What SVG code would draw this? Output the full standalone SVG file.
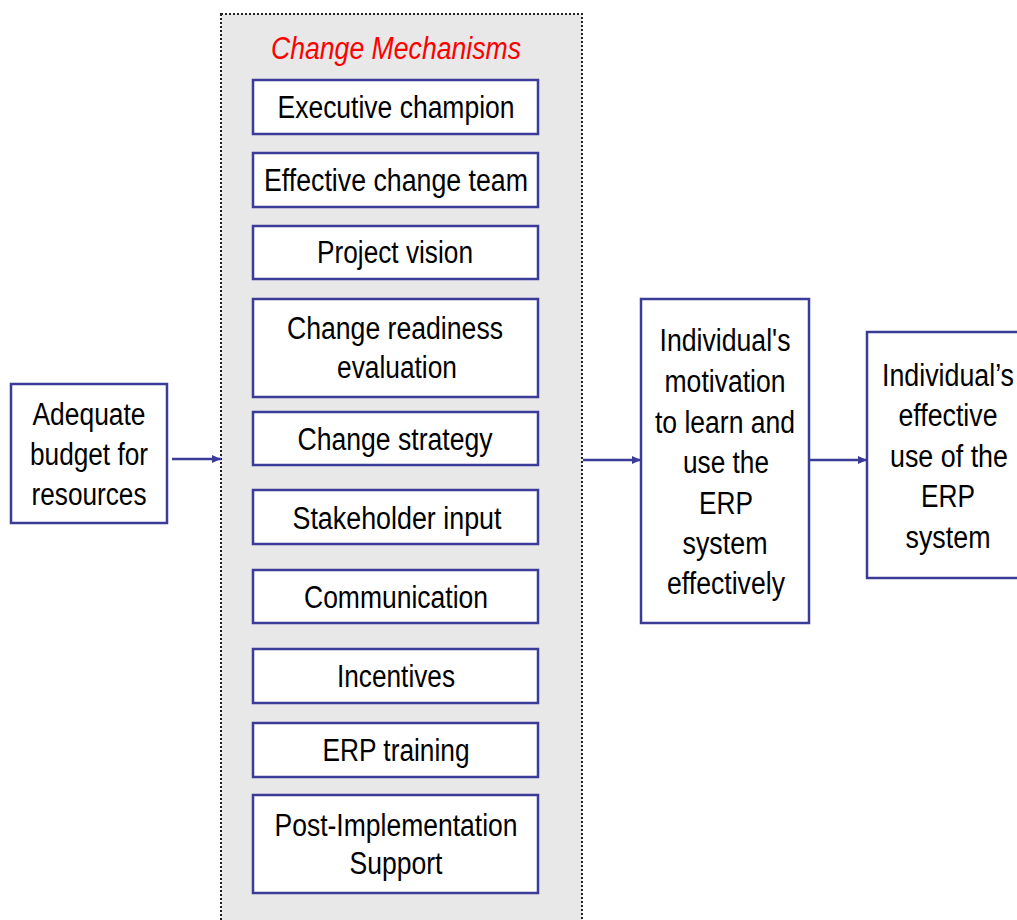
<svg xmlns="http://www.w3.org/2000/svg" width="1017" height="920" viewBox="0 0 1017 920">
  <style>
    .box { fill: #ffffff; stroke: #3b3b98; stroke-width: 2.5; }
    .lbl { font-family: "Liberation Sans", Arial, sans-serif; font-size: 31px; fill: #000000; text-anchor: middle; }
    .title { font-family: "Liberation Sans", Arial, sans-serif; font-size: 31px; font-style: italic; fill: #ff0000; text-anchor: middle; }
    .edge { stroke: #3b3b98; stroke-width: 2.5; fill: none; }
  </style>
  <defs>
    <marker id="arrow" markerWidth="10" markerHeight="10" refX="9" refY="5" orient="auto" markerUnits="userSpaceOnUse">
      <path d="M0,1 L9,5 L0,9 Z" fill="#3b3b98"/>
    </marker>
  </defs>

  <rect x="0" y="0" width="1017" height="920" fill="#ffffff"/>

  <!-- container of change mechanisms -->
  <g id="mechanisms">
    <rect x="221" y="14" width="361" height="930" fill="#e8e8e8" stroke="#222222" stroke-width="2" stroke-dasharray="2 2"/>
    <text class="title" x="396" y="59" textLength="250" lengthAdjust="spacingAndGlyphs">Change Mechanisms</text>
  </g>

  <g id="executive-champion">
    <rect class="box" x="253" y="80" width="285" height="54"/>
    <text class="lbl" x="396" y="118" textLength="237" lengthAdjust="spacingAndGlyphs">Executive champion</text>
  </g>
  <g id="change-team">
    <rect class="box" x="253" y="153" width="285" height="54"/>
    <text class="lbl" x="396" y="191" textLength="264" lengthAdjust="spacingAndGlyphs">Effective change team</text>
  </g>
  <g id="project-vision">
    <rect class="box" x="253" y="226" width="285" height="53"/>
    <text class="lbl" x="395" y="263" textLength="156" lengthAdjust="spacingAndGlyphs">Project vision</text>
  </g>
  <g id="readiness">
    <rect class="box" x="253" y="299" width="285" height="98"/>
    <text class="lbl" x="395" y="339" textLength="216" lengthAdjust="spacingAndGlyphs">Change readiness</text>
    <text class="lbl" x="397" y="378" textLength="120" lengthAdjust="spacingAndGlyphs">evaluation</text>
  </g>
  <g id="change-strategy">
    <rect class="box" x="253" y="412" width="285" height="53"/>
    <text class="lbl" x="395" y="450" textLength="195" lengthAdjust="spacingAndGlyphs">Change strategy</text>
  </g>
  <g id="stakeholder-input">
    <rect class="box" x="253" y="490" width="285" height="54"/>
    <text class="lbl" x="397" y="529" textLength="209" lengthAdjust="spacingAndGlyphs">Stakeholder input</text>
  </g>
  <g id="communication">
    <rect class="box" x="253" y="570" width="285" height="53"/>
    <text class="lbl" x="396" y="608" textLength="184" lengthAdjust="spacingAndGlyphs">Communication</text>
  </g>
  <g id="incentives">
    <rect class="box" x="253" y="649" width="285" height="54"/>
    <text class="lbl" x="396" y="687" textLength="118" lengthAdjust="spacingAndGlyphs">Incentives</text>
  </g>
  <g id="erp-training">
    <rect class="box" x="253" y="723" width="285" height="54"/>
    <text class="lbl" x="396" y="761" textLength="147" lengthAdjust="spacingAndGlyphs">ERP training</text>
  </g>
  <g id="post-implementation">
    <rect class="box" x="253" y="795" width="285" height="98"/>
    <text class="lbl" x="396" y="836" textLength="243" lengthAdjust="spacingAndGlyphs">Post-Implementation</text>
    <text class="lbl" x="396" y="874" textLength="93" lengthAdjust="spacingAndGlyphs">Support</text>
  </g>

  <g id="budget">
    <rect class="box" x="11" y="384" width="156" height="139"/>
    <text class="lbl" x="89" y="425" textLength="113" lengthAdjust="spacingAndGlyphs">Adequate</text>
    <text class="lbl" x="89" y="465" textLength="118" lengthAdjust="spacingAndGlyphs">budget for</text>
    <text class="lbl" x="89" y="505" textLength="115" lengthAdjust="spacingAndGlyphs">resources</text>
  </g>

  <g id="motivation">
    <rect class="box" x="641" y="299" width="168" height="324"/>
    <text class="lbl" x="725" y="351" textLength="131" lengthAdjust="spacingAndGlyphs">Individual's</text>
    <text class="lbl" x="725" y="392" textLength="121" lengthAdjust="spacingAndGlyphs">motivation</text>
    <text class="lbl" x="725" y="433" textLength="140" lengthAdjust="spacingAndGlyphs">to learn and</text>
    <text class="lbl" x="726" y="473" textLength="86" lengthAdjust="spacingAndGlyphs">use the</text>
    <text class="lbl" x="726" y="514" textLength="54" lengthAdjust="spacingAndGlyphs">ERP</text>
    <text class="lbl" x="725" y="554" textLength="85" lengthAdjust="spacingAndGlyphs">system</text>
    <text class="lbl" x="726" y="594" textLength="118" lengthAdjust="spacingAndGlyphs">effectively</text>
  </g>

  <g id="effective-use">
    <rect class="box" x="867" y="332" width="170" height="246"/>
    <text class="lbl" x="948" y="386" textLength="132" lengthAdjust="spacingAndGlyphs">Individual’s</text>
    <text class="lbl" x="948" y="426" textLength="99" lengthAdjust="spacingAndGlyphs">effective</text>
    <text class="lbl" x="949" y="467" textLength="118" lengthAdjust="spacingAndGlyphs">use of the</text>
    <text class="lbl" x="948" y="507" textLength="54" lengthAdjust="spacingAndGlyphs">ERP</text>
    <text class="lbl" x="948" y="548" textLength="85" lengthAdjust="spacingAndGlyphs">system</text>
  </g>

  <g id="connectors">
    <line class="edge" x1="172" y1="459" x2="221" y2="459" marker-end="url(#arrow)"/>
    <line class="edge" x1="583" y1="460" x2="641" y2="460" marker-end="url(#arrow)"/>
    <line class="edge" x1="810" y1="460" x2="867" y2="460" marker-end="url(#arrow)"/>
  </g>
</svg>
